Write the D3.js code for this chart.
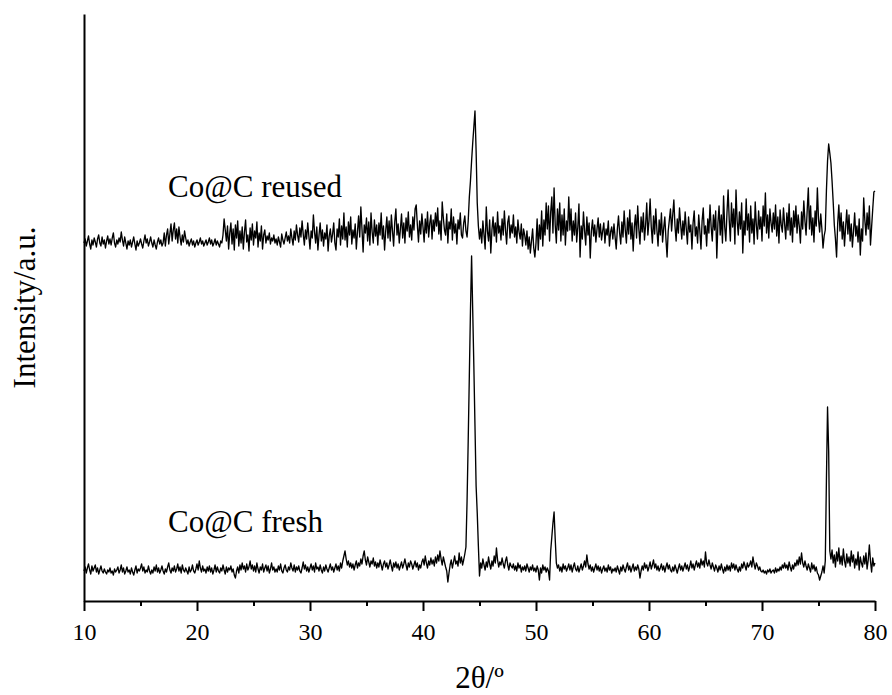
<!DOCTYPE html>
<meta charset="utf-8">
<style type="text/css">
body { margin: 0; background: #fff; }
.line { fill: none; stroke: #000; stroke-width: 1.35; stroke-linejoin: round; }
.axis path, .axis line { stroke: #000; stroke-width: 2; }
.title { font-family: "Liberation Serif", "Times New Roman", serif; font-size: 31px; fill: #000; }
</style>
<body>
<script src="https://d3js.org/d3.v7.min.js"></script>
<script>

// scan settings: 2theta from 10 to 80 deg, 0.1 deg step
var scanStart = 10, scanStep = 0.1;

// intensity (a.u., stacked offset included)
var freshCounts = [
  30,34,28,33,37,31,27,35,30,33,
  36,29,33,27,31,35,30,28,32,29,
  27,31,29,33,28,30,26,32,29,31,
  34,28,31,36,29,33,27,30,34,29,
  31,27,33,29,26,31,35,28,32,30,
  33,37,30,34,28,31,29,35,30,27,
  31,28,34,30,36,29,33,28,31,35,
  30,27,32,29,34,38,31,28,33,30,
  35,29,32,37,30,34,28,36,31,29,
  33,30,27,34,29,31,36,30,28,32,
  37,31,40,33,29,35,30,32,28,34,
  30,35,29,33,27,31,36,29,34,30,
  28,33,30,36,31,27,34,29,33,31,
  35,29,32,26,23,30,34,28,36,31,
  38,32,35,29,37,31,34,40,32,36,
  30,35,29,38,32,28,34,31,37,29,
  33,36,30,35,28,32,38,31,34,29,
  32,29,35,31,37,30,28,33,36,31,
  29,34,31,38,33,30,36,29,34,31,
  35,30,28,33,39,32,36,30,34,29,
  33,37,31,35,29,38,32,34,30,36,
  31,28,34,30,36,32,29,33,37,31,
  34,29,33,37,31,35,30,38,33,40,
  45,50,42,36,40,34,38,33,37,31,
  36,40,33,38,35,42,37,45,50,41,
  36,44,39,34,40,37,43,35,39,33,
  38,34,41,36,31,37,40,34,38,32,
  36,41,35,30,38,34,39,33,37,31,
  35,39,33,37,42,36,31,38,34,40,
  37,32,36,40,34,38,31,36,33,39,
  42,36,45,38,33,40,36,43,37,41,
  35,44,38,46,40,50,42,36,44,39,
  34,30,19,28,36,41,33,39,45,37,
  40,35,48,38,44,36,41,47,54,100,
  160,225,290,345,290,235,175,115,88,55,
  25,38,33,42,36,31,39,34,44,37,
  32,40,35,45,38,53,41,34,39,36,
  43,37,33,40,44,36,31,38,35,33,
  37,31,35,30,38,33,36,29,34,31,
  35,30,37,33,29,34,31,36,30,33,
  29,35,31,21,33,28,36,31,34,29,
  33,30,21,50,64,78,89,62,38,33,
  36,30,34,29,37,32,35,30,33,37,
  31,36,29,34,38,32,30,35,29,33,
  37,31,35,40,34,46,37,32,36,30,
  34,29,33,37,31,35,30,34,28,32,
  35,30,33,29,36,31,34,28,32,30,
  33,29,35,31,27,34,30,36,32,29,
  34,38,31,35,29,33,37,30,34,31,
  36,32,23,30,35,31,38,33,36,30,
  34,39,32,36,41,33,37,31,35,30,
  33,37,31,35,29,34,38,32,36,31,
  29,34,30,36,32,28,33,37,31,35,
  30,34,38,32,36,30,34,40,33,37,
  31,36,40,34,38,33,42,36,40,34,
  49,38,35,41,36,32,38,34,30,36,
  33,29,35,31,37,32,28,34,30,36,
  31,35,30,38,33,37,31,36,32,29,
  34,30,37,33,39,35,31,38,34,36,
  40,34,44,37,32,38,35,31,34,30,
  29,31,28,30,27,31,29,32,28,30,
  31,28,33,29,32,30,34,31,36,33,
  38,33,36,31,39,34,30,36,32,38,
  35,41,36,44,37,48,38,34,40,35,
  31,37,33,29,38,32,36,30,34,28,
  26,21,25,29,35,28,40,120,194,150,
  50,42,51,38,46,34,49,40,53,37,
  45,36,52,40,34,47,38,44,35,50,
  39,46,33,42,36,49,31,44,38,34,
  45,37,48,32,41,56,40,29,43,35,
  38
];

var reusedCounts = [
  358,362,355,360,365,357,352,361,356,363,
  359,354,362,366,358,355,364,357,361,353,
  360,365,357,362,356,363,368,358,354,361,
  357,363,359,369,361,355,364,358,352,360,
  356,361,354,359,364,357,351,360,355,358,
  362,357,353,360,366,358,362,355,359,364,
  358,354,361,356,352,359,363,357,361,355,
  358,368,355,366,372,357,367,377,360,371,
  378,362,372,358,374,364,356,366,359,370,
  363,357,361,355,359,362,356,360,354,358,
  361,356,359,363,357,360,355,358,361,356,
  359,363,357,361,355,358,362,356,360,357,
  354,360,358,366,382,371,360,375,352,368,
  378,357,372,351,376,363,380,355,370,358,
  374,352,369,381,359,366,350,373,361,377,
  356,370,363,379,354,368,360,375,352,366,
  371,358,365,361,368,357,363,360,366,358,
  362,356,364,359,354,367,361,357,363,369,
  360,365,358,372,363,356,370,361,376,366,
  359,373,364,380,367,356,371,362,378,365,
  352,370,363,386,369,358,374,351,366,378,
  360,371,355,368,362,376,350,365,372,359,
  367,378,358,351,372,364,382,356,375,362,
  388,361,374,354,379,366,384,357,371,363,
  377,352,369,385,364,394,372,349,376,368,
  383,360,379,356,388,369,358,381,365,376,
  356,378,366,388,362,375,351,370,384,363,
  380,360,386,370,355,379,392,366,377,358,
  372,387,363,378,358,383,370,389,364,376,
  361,384,371,392,396,376,359,380,367,387,
  374,359,382,368,389,364,378,386,362,381,
  370,388,375,393,367,380,361,399,383,371,
  366,387,358,379,372,392,361,384,368,377,
  357,381,372,388,366,363,378,385,370,364,
  380,404,420,440,458,474,490,450,398,375,
  362,372,358,380,366,352,394,370,360,381,
  348,371,384,365,378,359,389,368,375,361,
  382,366,390,371,357,379,385,363,376,368,
  386,364,374,358,381,369,362,377,355,372,
  366,356,370,352,364,348,360,372,353,344,
  358,382,351,376,362,390,355,381,366,398,
  372,395,360,389,404,368,413,376,358,392,
  371,398,360,386,366,392,356,380,370,404,
  371,392,360,380,366,388,359,374,397,344,
  375,362,389,370,356,384,366,378,343,370,
  381,365,376,359,372,383,364,377,361,370,
  378,358,372,366,380,355,369,374,362,377,
  364,352,372,385,368,357,379,364,390,371,
  358,383,367,391,362,378,350,374,386,363,
  395,372,357,384,369,388,361,376,398,366,
  380,402,374,358,385,367,392,371,355,381,
  366,388,359,373,384,362,344,370,381,392,
  370,386,401,375,360,382,368,393,377,362,
  380,366,389,372,357,384,369,376,352,378,
  390,365,374,358,386,370,352,380,393,367,
  375,355,382,368,396,374,360,386,371,390,
  343,378,395,366,386,358,405,374,360,388,
  411,381,360,398,374,392,357,411,380,366,
  389,372,398,348,380,366,402,371,387,359,
  395,368,382,357,399,376,362,390,372,384,
  360,395,375,408,368,386,363,392,378,369,
  388,372,396,365,384,358,391,376,369,393,
  377,362,388,371,397,366,383,359,390,374,
  395,368,386,375,358,389,372,400,380,366,
  391,413,372,395,366,383,359,390,375,413,
  382,369,387,372,353,365,371,410,440,457,
  448,438,420,399,376,362,344,378,396,370,
  388,362,379,355,374,391,367,386,360,377,
  354,370,388,365,375,359,382,346,372,360,
  403,381,366,388,372,395,356,374,392,409,
  410
];

var seriesNames = ["Co@C fresh", "Co@C reused"];
var majorTicks = [10, 20, 30, 40, 50, 60, 70, 80];
var minorTicks = [15, 25, 35, 45, 55, 65, 75];

var margin = {top: 14, right: 17, bottom: 94, left: 84},
    width = 892 - margin.left - margin.right,
    height = 695 - margin.top - margin.bottom;

var xScale = d3.scaleLinear().domain([10, 80]).range([0, width]);
var yScale = d3.scaleLinear().domain([0, 587]).range([height, 0]);

var line = d3.line()
    .x(function(d) { return xScale(d.x); })
    .y(function(d) { return yScale(d.y); });

function toPoints(counts) {
  return counts.map(function(c, i) { return {x: scanStart + i * scanStep, y: c}; });
}

var svg = d3.select("body").append("svg")
    .attr("width", 892)
    .attr("height", 695)
  .append("g")
    .attr("transform", "translate(" + margin.left + "," + margin.top + ")");

// patterns
[freshCounts, reusedCounts].forEach(function(counts) {
  svg.append("path")
      .datum(toPoints(counts))
      .attr("class", "line")
      .attr("d", line);
});

// minor ticks first, then the major axis on top
svg.append("g")
    .attr("class", "axis")
    .attr("transform", "translate(0," + height + ")")
    .call(d3.axisBottom(xScale).tickValues(minorTicks).tickSize(5).tickFormat(""))
    .select(".domain").remove();

var xAxisG = svg.append("g")
    .attr("class", "axis")
    .attr("transform", "translate(0," + height + ")")
    .call(d3.axisBottom(xScale).tickValues(majorTicks).tickSize(10).tickSizeOuter(0).tickPadding(12));

xAxisG.attr("font-family", "Liberation Serif").attr("font-size", 24);
xAxisG.selectAll("text")
    .style("font-family", "'Liberation Serif', 'Times New Roman', serif")
    .style("font-size", "24px")
    .style("fill", "#000");

svg.append("g")
    .attr("class", "axis")
    .call(d3.axisLeft(yScale).tickValues([]).tickSizeOuter(0));

// sample labels
svg.append("text")
    .attr("class", "title")
    .attr("x", 84)
    .attr("y", yScale(404))
    .text(seriesNames[1]);

svg.append("text")
    .attr("class", "title")
    .attr("x", 84)
    .attr("y", yScale(69))
    .text(seriesNames[0]);

// axis titles
svg.append("text")
    .attr("class", "title")
    .attr("text-anchor", "middle")
    .attr("x", width / 2)
    .attr("y", height + 87)
    .text("2\u03b8/\u00ba");

svg.append("text")
    .attr("class", "title")
    .attr("text-anchor", "middle")
    .attr("transform", "translate(" + (35 - margin.left) + "," + (height / 2) + ") rotate(-90)")
    .text("Intensity/a.u.");

</script>
</body>
